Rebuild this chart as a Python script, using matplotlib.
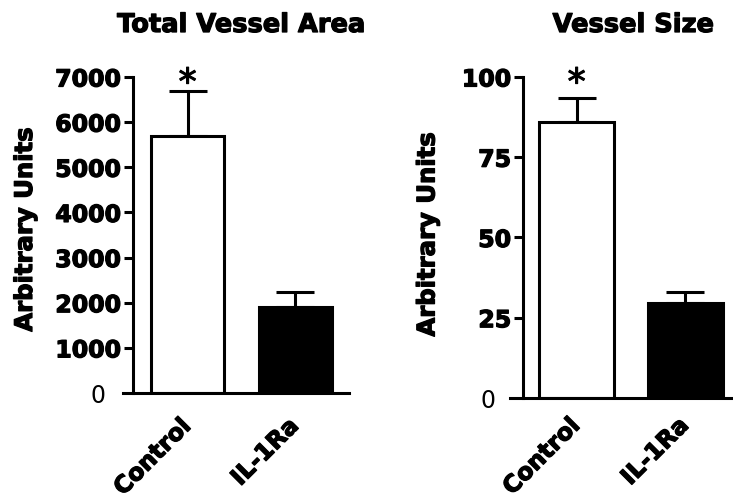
import matplotlib
matplotlib.use("Agg")
import matplotlib.pyplot as plt
import matplotlib.patheffects as pe

# data
groups = ["Control", "IL-1Ra"]
area_mean = [5700, 1900]
area_err = [1000, 340]
size_mean = [86, 29.5]
size_err = [7.5, 3.5]
area_ticks = [0, 1000, 2000, 3000, 4000, 5000, 6000, 7000]
size_ticks = [0, 25, 50, 75, 100]

plt.rcParams['font.family'] = ['DejaVu Sans']
plt.rcParams['font.weight'] = 'bold'

LW = 2.2
# heavier look, closer to the black sans of the original
heavy = [pe.withStroke(linewidth=0.9, foreground='black')]
fig = plt.figure(figsize=(7.33, 5.04), dpi=100)


def panel(rect, means, errs, ticks, xlim, spine_x, width, label_dy):
    ax = fig.add_axes(rect)
    x = list(range(len(means)))
    ax.bar(x, means, width=width, color=['white', 'black'], edgecolor='black',
           linewidth=LW, zorder=2)
    ax.errorbar(x, means, yerr=[[0] * len(errs), errs], fmt='none', ecolor='black',
                elinewidth=LW, capsize=14, capthick=LW, zorder=1)
    ax.set_xlim(*xlim)
    ax.set_ylim(0, ticks[-1])
    for s in ['top', 'right']:
        ax.spines[s].set_visible(False)
    ax.spines['left'].set_position(('data', spine_x))
    ax.spines['left'].set_bounds(0, ticks[-1])
    ax.spines['left'].set_linewidth(LW)
    ax.spines['bottom'].set_linewidth(LW)
    ax.set_yticks(ticks)
    ax.set_yticklabels([str(t) for t in ticks])
    ax.tick_params(axis='y', direction='out', length=6.5, width=LW, pad=2, labelsize=17)
    for lab in ax.get_yticklabels()[1:]:
        lab.set_path_effects(heavy)
    zt = ax.yaxis.get_major_ticks()[0]
    zt.tick1line.set_visible(False)
    zt.set_pad(13)
    zt.label1.set_fontweight('normal')
    # group names drawn as slanted text under each bar
    ax.set_xticks(x)
    ax.set_xticklabels([])
    ax.tick_params(axis='x', length=0)
    for i, g in enumerate(groups):
        ax.annotate(g, xy=(x[i], 0), xytext=(-6.5, label_dy), textcoords='offset points',
                    ha='right', va='top', rotation=45, rotation_mode='anchor',
                    fontsize=17, path_effects=heavy)
    ax.patch.set_visible(False)
    ax.annotate('*', xy=(0, ticks[-1]), xytext=(0, -5), textcoords='offset points',
                ha='center', va='center', fontsize=26, fontweight='normal',
                path_effects=[pe.withStroke(linewidth=0.8, foreground='black')])
    return ax


panel([0.1678, 0.2202, 0.3083, 0.627], area_mean, area_err, area_ticks,
      (-0.60, 1.50), -0.507, 0.68, -15)
panel([0.6958, 0.2103, 0.3042, 0.637], size_mean, size_err, size_ticks,
      (-0.613, 1.44), -0.493, 0.69, -11)

fig.text(0.3295, 0.9365, 'Total Vessel Area', ha='center', va='baseline',
         fontsize=18.5, path_effects=heavy)
fig.text(0.8643, 0.9365, 'Vessel Size', ha='center', va='baseline',
         fontsize=18.5, path_effects=heavy)
fig.text(25 / 733, 0.5437, 'Arbitrary Units', rotation=90, ha='center', va='center',
         fontsize=17.5, path_effects=heavy)
fig.text(427.5 / 733, 0.534, 'Arbitrary Units', rotation=90, ha='center', va='center',
         fontsize=17.5, path_effects=heavy)

fig.savefig('out.png', dpi=100)
